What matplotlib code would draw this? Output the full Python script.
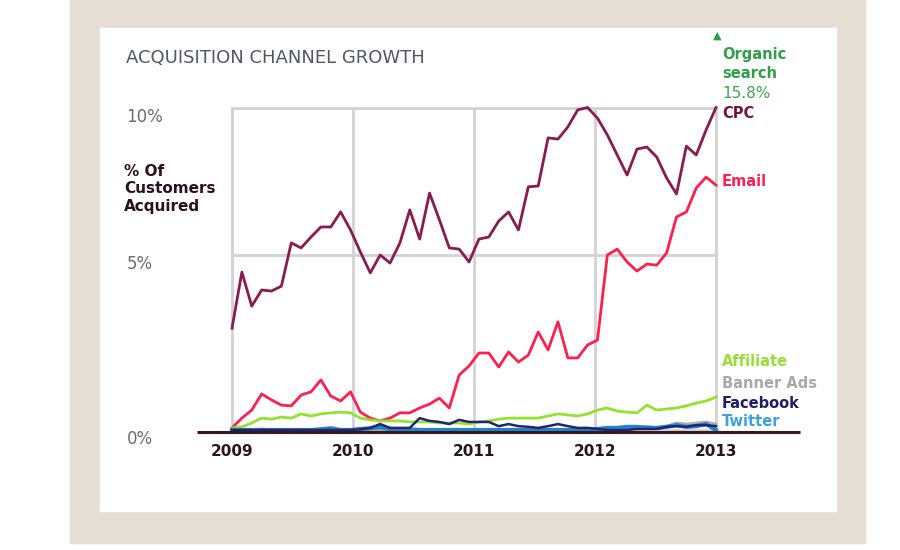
import matplotlib
matplotlib.use('Agg')

import numpy as np
import matplotlib.pyplot as plt
from matplotlib.patches import Rectangle

# monthly points, Jan 2009 .. Jan 2013
years = np.linspace(2009, 2013, 50)

cpc = [2.91, 4.51, 3.54, 4.00, 3.97, 4.11, 5.41, 5.24, 5.61, 5.95,
       5.95, 6.46, 5.85, 5.10, 4.49, 5.00, 4.77, 5.41, 6.53, 5.54,
       7.10, 6.19, 5.24, 5.20, 4.80, 5.54, 5.61, 6.15, 6.46, 5.85,
       7.31, 7.34, 8.97, 8.93, 9.34, 9.92, 10.0, 9.64, 9.07, 8.39,
       7.71, 8.59, 8.66, 8.32, 7.61, 7.07, 8.69, 8.39, 9.24, 10.0]

email = [0.06, 0.34, 0.57, 1.03, 0.86, 0.71, 0.69, 1.00, 1.09, 1.43,
         0.97, 0.83, 1.09, 0.51, 0.34, 0.26, 0.34, 0.49, 0.49, 0.63,
         0.74, 0.91, 0.63, 1.57, 1.83, 2.20, 2.20, 1.80, 2.23, 1.94,
         2.14, 2.80, 2.29, 3.09, 2.06, 2.06, 2.43, 2.57, 5.00, 5.20,
         4.80, 4.54, 4.74, 4.71, 5.07, 6.29, 6.46, 7.27, 7.64, 7.37]

affiliate = [0.06, 0.09, 0.20, 0.34, 0.31, 0.37, 0.34, 0.46, 0.40, 0.46,
             0.49, 0.51, 0.49, 0.34, 0.29, 0.26, 0.26, 0.26, 0.23, 0.23,
             0.23, 0.20, 0.20, 0.20, 0.17, 0.23, 0.26, 0.31, 0.34, 0.34,
             0.34, 0.34, 0.40, 0.46, 0.43, 0.40, 0.46, 0.57, 0.63, 0.54,
             0.51, 0.49, 0.71, 0.57, 0.60, 0.63, 0.69, 0.77, 0.83, 0.94]

banner = [0.00, 0.00, 0.00, 0.03, 0.00, 0.00, 0.00, 0.00, 0.00, 0.00,
          0.00, 0.00, 0.00, 0.00, 0.00, 0.00, 0.00, 0.00, 0.00, 0.00,
          0.00, 0.00, 0.00, 0.00, 0.00, 0.00, 0.00, 0.00, 0.00, 0.00,
          0.00, 0.00, 0.00, 0.00, 0.00, 0.00, 0.00, 0.00, 0.00, 0.03,
          0.03, 0.09, 0.11, 0.06, 0.11, 0.20, 0.17, 0.20, 0.23, 0.17]

facebook = [0.00, 0.00, 0.00, 0.00, 0.00, 0.00, 0.00, 0.00, 0.00, 0.00,
            0.00, 0.00, 0.00, 0.02, 0.06, 0.17, 0.06, 0.06, 0.06, 0.34,
            0.26, 0.23, 0.17, 0.29, 0.23, 0.23, 0.23, 0.11, 0.17, 0.11,
            0.09, 0.06, 0.11, 0.17, 0.11, 0.06, 0.06, 0.03, 0.00, 0.00,
            0.00, 0.03, 0.03, 0.03, 0.09, 0.11, 0.09, 0.14, 0.14, 0.11]

twitter = [0.00, 0.00, 0.00, 0.00, 0.00, 0.00, 0.00, 0.00, 0.00, 0.02,
           0.05, 0.00, 0.00, 0.03, 0.05, 0.08, 0.03, 0.02, 0.02, 0.00,
           0.00, 0.00, 0.00, 0.00, 0.00, 0.00, 0.00, 0.00, 0.00, 0.00,
           0.00, 0.00, 0.00, 0.00, 0.00, 0.00, 0.00, 0.03, 0.06, 0.06,
           0.09, 0.09, 0.06, 0.06, 0.09, 0.14, 0.09, 0.11, 0.17, 0.00]

organic_label = '15.8%'
year_ticks = [2009, 2010, 2011, 2012, 2013]
pct_ticks = [0, 5, 10]
pct_labels = ['0%', '5%', '10%']


# the source chart squeezes the 5-10% band a little
def fwd(v):
    v = np.asarray(v, dtype=float)
    return np.where(v <= 5, v * 35.0, 175.0 + (v - 5) * 29.5)


def inv(p):
    p = np.asarray(p, dtype=float)
    return np.where(p <= 175, p / 35.0, 5 + (p - 175.0) / 29.5)


W, H = 900.0, 550.0

fig = plt.figure(figsize=(9, 5.5), dpi=100)
fig.patch.set_facecolor('white')
fig.add_artist(Rectangle((70 / W, 1 - 543 / H), 795 / W, 543 / H,
                         transform=fig.transFigure, color='#e5ded5', zorder=0))
fig.add_artist(Rectangle((100 / W, 1 - 511 / H), 736 / W, 483 / H,
                         transform=fig.transFigure, color='white', zorder=0))

ax = fig.add_axes([232 / W, 1 - 432 / H, 484 / W, 324.5 / H])
ax.set_facecolor('white')
ax.set_yscale('function', functions=(fwd, inv))
ax.set_ylim(-0.057, 10)
ax.set_xlim(2009, 2013)

grey = '#d3d3d3'
for s in ['top', 'left', 'right']:
    ax.spines[s].set_color(grey)
    ax.spines[s].set_linewidth(2)
ax.spines['bottom'].set_visible(False)
ax.set_xticks(year_ticks)
ax.set_yticks(pct_ticks)
ax.set_yticklabels(pct_labels)
ax.grid(True, color=grey, lw=2)
ax.set_axisbelow(True)

ax.tick_params(axis='x', length=0, pad=9, labelsize=11, labelcolor='#2b1320')
for lab in ax.get_xticklabels():
    lab.set_fontweight('bold')
ax.tick_params(axis='y', length=0, pad=76, labelsize=12, labelcolor='#6c6c78')
for lab in ax.get_yticklabels():
    lab.set_horizontalalignment('left')
    lab.set_verticalalignment('top')

# dark baseline running past both ends
ax.plot([-0.072, 1.174], [0, 0], transform=ax.transAxes, color='#3a1822',
        lw=2.2, clip_on=False, zorder=5, solid_capstyle='butt')

ax.plot(years, cpc, color='#8a1a50', lw=2, clip_on=False, zorder=4)
ax.plot(years, email, color='#ff1f4f', lw=2, clip_on=False, zorder=4)
ax.plot(years, affiliate, color='#92e22e', lw=2, clip_on=False, zorder=4)
ax.plot(years, banner, color='#b0b0b0', lw=2, clip_on=False, zorder=4)
ax.plot(years, twitter, color='#1e86c8', lw=3, clip_on=False, zorder=4)
ax.plot(years, facebook, color='#252270', lw=1.8, clip_on=False, zorder=4)


def ftext(x, y, s, **kw):
    fig.text(x / W, 1 - y / H, s, **kw)


ftext(126, 58, 'ACQUISITION CHANNEL GROWTH', fontsize=13, color='#55556a',
      va='center', ha='left')
ftext(124, 164, '% Of\nCustomers\nAcquired', fontsize=11, fontweight='bold',
      color='#2a1020', va='top', ha='left', linespacing=1.2)

ftext(717, 36, '\u25b2', fontsize=8, color='#2a9e40', ha='center', va='center')
ftext(722, 55, 'Organic', fontsize=10.5, fontweight='bold', color='#2fa046',
      va='center')
ftext(722, 73, 'search', fontsize=10.5, fontweight='bold', color='#2fa046',
      va='center')
ftext(722, 94, organic_label, fontsize=11, color='#3aaa4a', va='center')

labels = [('CPC', 114, '#7a1040'), ('Email', 182, '#ff1f4f'),
          ('Affiliate', 362, '#95e030'), ('Banner Ads', 383, '#a8a8a8'),
          ('Facebook', 403, '#221e66'), ('Twitter', 422, '#3aa2e0')]
for name, y, c in labels:
    ftext(722, y, name, fontsize=10.5, fontweight='bold', color=c, va='center')

plt.savefig('out.png', dpi=100, facecolor='white')
plt.close()
